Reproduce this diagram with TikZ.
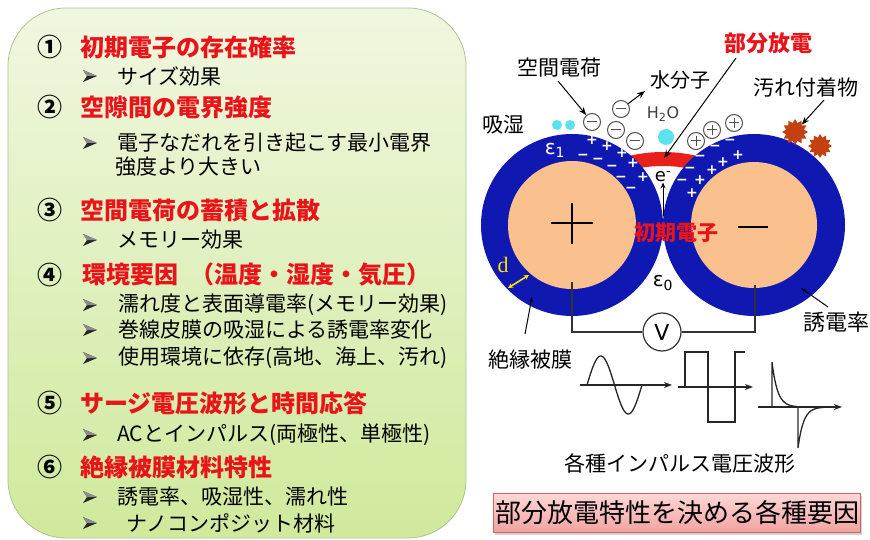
\documentclass[tikz,border=0pt]{standalone}
\usepackage{fontspec}
\setmainfont{Noto Sans CJK JP}
\newfontfamily\dingfont{DejaVu Sans}
\newfontfamily\serifd{Liberation Serif}
\usetikzlibrary{arrows.meta,shapes.geometric,shadows}

\definecolor{panelTop}{RGB}{240,247,224}
\definecolor{panelBot}{RGB}{208,233,156}
\definecolor{panelEdge}{RGB}{176,194,148}
\definecolor{headRed}{RGB}{232,20,26}
\definecolor{coatBlue}{RGB}{16,24,178}
\definecolor{copper}{RGB}{250,192,142}
\definecolor{pdRed}{RGB}{232,32,28}
\definecolor{waterCyan}{RGB}{92,226,238}
\definecolor{dirt}{RGB}{196,64,16}
\definecolor{capTop}{RGB}{252,216,214}
\definecolor{capBot}{RGB}{242,162,160}
\definecolor{capEdge}{RGB}{200,100,98}
\definecolor{chargeGray}{RGB}{80,80,80}
\definecolor{dYellow}{RGB}{248,228,0}

\begin{document}
\begin{tikzpicture}[x=1pt,y=-1pt,
  num/.style={font=\fontsize{25}{28}\selectfont\bfseries, inner sep=0},
  head/.style={font=\fontsize{24}{28}\selectfont\bfseries, text=headRed, anchor=west, inner sep=0},
  item/.style={font=\fontsize{21}{25}\selectfont, anchor=west, inner sep=0},
  tip/.style={minimum width=16pt, minimum height=14pt, inner sep=0,
    path picture={
      \fill[black!85] ([shift={(-7pt,6pt)}]path picture bounding box.center)
        -- ([shift={(7pt,0pt)}]path picture bounding box.center)
        -- ([shift={(-7pt,-6pt)}]path picture bounding box.center)
        -- ([shift={(-3pt,0pt)}]path picture bounding box.center) -- cycle;
      \fill[black!45] ([shift={(-7pt,6pt)}]path picture bounding box.center)
        -- ([shift={(7pt,0pt)}]path picture bounding box.center)
        -- ([shift={(-3pt,0pt)}]path picture bounding box.center) -- cycle;}},
  lbl/.style={font=\fontsize{21}{25}\selectfont, inner sep=0},
  sign/.style={text=white, font=\dingfont\bfseries\fontsize{14}{14}\selectfont, inner sep=0},
  chargeneg/.style={circle, draw=chargeGray, line width=1pt, fill=white, minimum size=17pt, inner sep=0,
    path picture={\draw[chargeGray, line width=1pt]
      ([xshift=-5pt]path picture bounding box.center) -- ([xshift=5pt]path picture bounding box.center);}},
  chargepos/.style={chargeneg,
    path picture={\draw[chargeGray, line width=1pt]
      ([xshift=-5pt]path picture bounding box.center) -- ([xshift=5pt]path picture bounding box.center)
      ([yshift=-5pt]path picture bounding box.center) -- ([yshift=5pt]path picture bounding box.center);}},
  water/.style={circle, fill=waterCyan, inner sep=0},
  arr/.style={-{Stealth[length=8pt,width=6pt]}, line width=1pt},
  wire/.style={line width=1.2pt, draw=black!80},
  wave/.style={line width=1.3pt, draw=black!85},
  axisarr/.style={wave, -{Stealth[length=8pt,width=6pt]}},
]
\useasboundingbox (0,0) rectangle (870,540);

% ---------- left panel: list of factors ----------
\path[draw=panelEdge, line width=0.8pt, top color=panelTop, bottom color=panelBot,
      rounded corners=58pt] (8,8) rectangle (466,538);

\node[num]  (n1) at (50,47) {①};
\node[head] (h1) at (80,47) {初期電子の存在確率};
\node[tip]  (t11) at (90,76) {};
\node[item] (i11) at (117,76) {サイズ効果};

\node[num]  (n2) at (50,107) {②};
\node[head] (h2) at (80,107) {空隙間の電界強度};
\node[tip]  (t21) at (90,143) {};
\node[item] (i21) at (117,143) {電子なだれを引き起こす最小電界};
\node[item] (i22) at (115,167) {強度より大きい};

\node[num]  (n3) at (50,210) {③};
\node[head] (h3) at (80,210) {空間電荷の蓄積と拡散};
\node[tip]  (t31) at (90,240) {};
\node[item] (i31) at (117,240) {メモリー効果};

\node[num]  (n4) at (50,275) {④};
\node[head] (h4) at (82,275) {環境要因\hspace{0.5em}（温度・湿度・気圧）};
\node[tip]  (t41) at (90,305) {};
\node[item] (i41) at (118,305) {濡れ度と表面導電率(メモリー効果)};
\node[tip]  (t42) at (90,330) {};
\node[item] (i42) at (118,330) {巻線皮膜の吸湿による誘電率変化};
\node[tip]  (t43) at (90,358) {};
\node[item] (i43) at (118,358) {使用環境に依存(高地、海上、汚れ)};

\node[num]  (n5) at (50,403) {⑤};
\node[head] (h5) at (80,403) {サージ電圧波形と時間応答};
\node[tip]  (t51) at (90,435) {};
\node[item] (i51) at (117,435) {ACとインパルス(両極性、単極性)};

\node[num]  (n6) at (50,467) {⑥};
\node[head] (h6) at (80,467) {絶縁被膜材料特性};
\node[tip]  (t61) at (90,497) {};
\node[item] (i61) at (117,497) {誘電率、吸湿性、濡れ性};
\node[tip]  (t62) at (90,523) {};
\node[item] (i62) at (126,523) {ナノコンポジット材料};

% ---------- right: two insulated conductors ----------
% discharge zone in the wedge between the coatings
\draw[pdRed, line width=14pt] (663,300) ++(60:141pt) arc[start angle=60, end angle=120, radius=141pt];
\coordinate (pdzone) at (664,158);

\node[circle, fill=coatBlue, minimum size=182pt, inner sep=0] (lcoat) at (572,225) {};
\node[circle, fill=copper, minimum size=128pt, inner sep=0] (lcore) at (572,225) {};
\node[circle, fill=coatBlue, minimum size=182pt, inner sep=0] (rcoat) at (754,225) {};
\node[circle, fill=copper, minimum size=126pt, inner sep=0] (rcore) at (754,225) {};

% polarity marks on the conductors
\draw[line width=2.2pt] (551,223) -- (593,223) (572,203) -- (572,244);
\draw[line width=2.6pt] (738,227) -- (768,227);

% charges inside the coatings
\foreach \p [count=\i] in {(592,140),(607,146),(622,153),(633,163),(643,177),
                           (738,155),(723,162),(712,170),(700,180),(692,193)}
  \node[sign] (pl\i) at \p {+};
\foreach \p [count=\i] in {(583,157),(598,161),(612,168),(621,179),(631,190),
                           (730,142),(715,148),(700,158),(690,170),(682,182)}
  \node[sign] (mi\i) at \p {−};

\node[text=white, font=\dingfont\fontsize{20}{22}\selectfont, inner sep=0] (eps1) at (555,150) {ε\textsubscript{1}};
\node[font=\dingfont\fontsize{20}{22}\selectfont, inner sep=0] (eps0) at (663,283) {ε\textsubscript{0}};

% space charges above the gap
\node[chargeneg] (q1) at (592,122) {};
\node[chargeneg] (q2) at (621,109) {};
\node[chargeneg] (q3) at (616,130) {};
\node[chargeneg] (q4) at (635,141) {};
\node[chargepos] (p1) at (696,141) {};
\node[chargepos] (p2) at (712,130) {};
\node[chargepos] (p3) at (734,123) {};

% moisture
\node[water, minimum size=10pt] (w1) at (557,125) {};
\node[water, minimum size=10pt] (w2) at (570,125) {};
\node[water, minimum size=16pt] (w3) at (666,137) {};
\node[font=\dingfont\fontsize{16}{18}\selectfont, text=black!75, inner sep=0] (h2o) at (663,114) {H\textsubscript{2}O};

% contamination particles
\node[star, star points=12, star point ratio=1.4, fill=dirt, minimum size=26pt, inner sep=0] (dirt1) at (795,132) {};
\node[star, star points=12, star point ratio=1.4, fill=dirt, minimum size=24pt, inner sep=0] (dirt2) at (820,146) {};

% initial electron
\node[font=\dingfont\fontsize{18}{20}\selectfont, inner sep=0] (elec) at (663,177) {e\textsuperscript{-}};
\coordinate (ebase) at (663,216);
\draw[-{Stealth[length=6pt,width=5pt]}, line width=1pt] (ebase) -- (elec.south);
\node[lbl, text=headRed, font=\fontsize{21}{25}\selectfont\bfseries] (init) at (676,233) {初期電子};

% coating thickness
\node[text=dYellow, font=\serifd\fontsize{22}{24}\selectfont, inner sep=0] (dlbl) at (503,265) {d};
\coordinate (da) at (508,288);
\coordinate (db) at (529,275);
\draw[dYellow, line width=1.6pt, {Stealth[length=5pt,width=5pt]}-{Stealth[length=5pt,width=5pt]}] (da) -- (db);

% measuring circuit
\coordinate (lterm) at (572,282);
\coordinate (rterm) at (755,285);
\node[circle, draw=black!80, line width=1.2pt, fill=white, minimum size=38pt, inner sep=0,
      font=\dingfont\fontsize{22}{24}\selectfont] (vm) at (662,332) {V};
\draw[wire] (lterm) |- (vm);
\draw[wire] (vm) -| (rterm);

% labels and pointers
\node[lbl, text=headRed, font=\fontsize{22}{26}\selectfont\bfseries] (lblpd) at (768,43) {部分放電};
\node[lbl] (lblsc) at (559,68) {空間電荷};
\node[lbl, font=\fontsize{20}{24}\selectfont] (lblwm) at (680,80) {水分子};
\node[lbl] (lbldirt) at (806,88) {汚れ付着物};
\node[lbl] (lblhum) at (503,125) {吸湿};
\node[lbl, font=\fontsize{22}{26}\selectfont] (lblperm) at (836,322) {誘電率};
\node[lbl] (lblins) at (530,360) {絶縁被膜};

\coordinate (scstart) at (558,81);
\draw[arr] (scstart) -- (q1);
\coordinate (wmtip) at (645,91);
\draw[arr] (q2) -- (wmtip);
\coordinate (pdstart) at (736,58);
\draw[arr] (pdstart) -- (pdzone);
\coordinate (dirtstart) at (824,100);
\draw[arr] (dirtstart) -- (dirt1);
\coordinate (permstart) at (828,307);
\coordinate (permtip) at (801,288);
\draw[-{Stealth[length=5pt,width=4pt]}, line width=1pt] (permstart) -- (permtip);
\coordinate (insstart) at (525,334);
\coordinate (instip) at (532,297);
\draw[-{Stealth[length=5pt,width=4pt]}, line width=1pt] (insstart) -- (instip);

% ---------- voltage waveforms ----------
% AC
\draw[axisarr] (580,385) -- (672,385);
\draw[wave] plot[domain=587:642, samples=80, smooth] (\x, {385-29*sin(((\x-587)/55)*360)});
% bipolar square pulse
\draw[axisarr] (678,387) -- (753,387);
\draw[wave] (685,387) -- (685,352) -- (708,352) -- (708,422) -- (735,422) -- (735,352) -- (745,352);
% impulse
\draw[axisarr] (758,407) -- (842,407);
\draw[wave] (772,407) -- (772,362) -- plot[domain=772:797, samples=40, smooth] (\x, {407-45*exp(-(\x-772)/5.5)});
\draw[wave] (798,407) -- (798,448) -- plot[domain=798:824, samples=40, smooth] (\x, {407+41*exp(-(\x-798)/5.5)});

\node[lbl] (lblwave) at (680,463) {各種インパルス電圧波形};

% ---------- caption ----------
\node[draw=capEdge, line width=0.8pt, top color=capTop, bottom color=capBot,
      drop shadow={shadow xshift=1.5pt, shadow yshift=-2pt, opacity=0.35},
      minimum width=367pt, minimum height=39pt, inner sep=0,
      font=\fontsize{26}{30}\selectfont] (cap) at (677,513) {部分放電特性を決める各種要因};
\end{tikzpicture}
\end{document}
